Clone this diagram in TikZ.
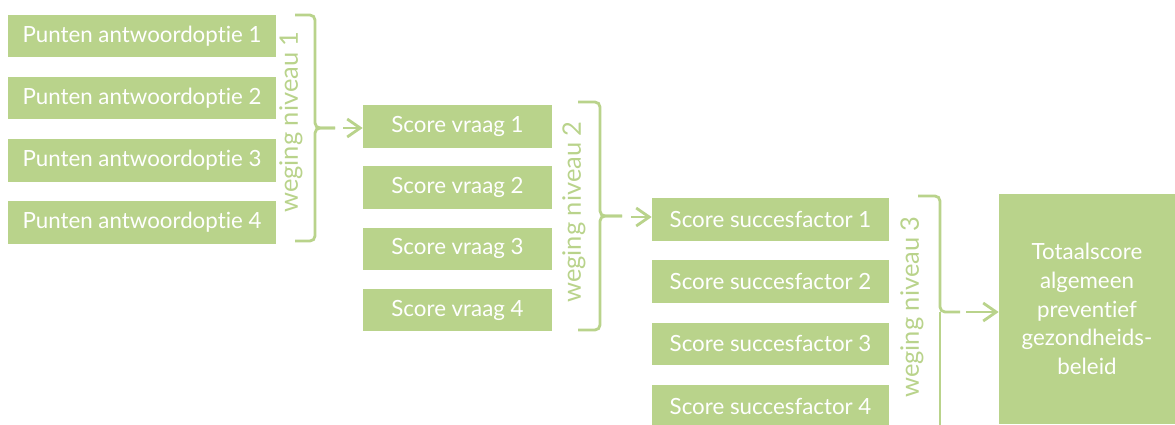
\documentclass[tikz,border=0pt]{standalone}
\usepackage{fontspec}
\setmainfont{Lato}[Ligatures=NoCommon]
\usepackage{xcolor}
\usetikzlibrary{arrows.meta,positioning}
\definecolor{GreenColor}{RGB}{185,211,139}

\tikzset{
  box/.style={fill=GreenColor, text=white, minimum height=0.85cm, inner sep=0pt},
  weging/.style={rotate=90, text=GreenColor, font=\fontsize{14.5}{17}\selectfont},
  bracket/.style={draw=GreenColor, line width=1.6pt, rounded corners=0.1cm},
  pijl/.style={draw=GreenColor, line width=1.6pt, -{Straight Barb[length=0.26cm, width=0.36cm]}}
}

\begin{document}
\begin{tikzpicture}[x=0.02cm, y=-0.02cm, font=\fontsize{12.7}{16.4}\selectfont]
  \useasboundingbox (0,0) rectangle (1175,424);
  % column 1
  \node[box, minimum width=5.36cm] (p1) at (142,36) {Punten antwoordoptie 1};
  \node[box, minimum width=5.36cm, below=0.38cm of p1] (p2) {Punten antwoordoptie 2};
  \node[box, minimum width=5.36cm, below=0.38cm of p2] (p3) {Punten antwoordoptie 3};
  \node[box, minimum width=5.36cm, below=0.38cm of p3] (p4) {Punten antwoordoptie 4};
  % column 2
  \node[box, minimum width=3.78cm] (v1) at (457.5,126.5) {Score vraag 1};
  \node[box, minimum width=3.78cm, below=0.36cm of v1] (v2) {Score vraag 2};
  \node[box, minimum width=3.78cm, below=0.36cm of v2] (v3) {Score vraag 3};
  \node[box, minimum width=3.78cm, below=0.36cm of v3] (v4) {Score vraag 4};
  % column 3
  \node[box, minimum width=4.74cm] (s1) at (770.5,219.5) {Score succesfactor 1};
  \node[box, minimum width=4.74cm, below=0.38cm of s1] (s2) {Score succesfactor 2};
  \node[box, minimum width=4.74cm, below=0.38cm of s2] (s3) {Score succesfactor 3};
  \node[box, minimum width=4.74cm, below=0.38cm of s3] (s4) {Score succesfactor 4};
  % total
  \node[box, minimum width=3.52cm, minimum height=4.6cm, align=center, text width=3.2cm] (tot) at (1087,309)
    {Totaalscore\\algemeen\\preventief\\gezondheids-\\beleid};

  % weging niveau 1
  \draw[bracket] (295,15) -- (315,15) -- (315,128) -- (335,128);
  \draw[bracket] (295,241) -- (315,241) -- (315,128) -- (335,128);
  \node[weging] (w1) at (291,122) {weging niveau 1};
  \coordinate (t1) at (343,128);
  \draw[pijl] (t1) -- (t1 -| v1.west);

  % weging niveau 2
  \draw[bracket] (578,102) -- (600,102) -- (600,216) -- (622,216);
  \draw[bracket] (578,330) -- (600,330) -- (600,216) -- (622,216);
  \node[weging] (w2) at (574,212) {weging niveau 2};
  \coordinate (t2) at (631,217);
  \draw[pijl] (t2) -- (t2 -| s1.west);

  % weging niveau 3
  \draw[bracket] (918,196) -- (940,196) -- (940,312) -- (960,312);
  \draw[bracket] (940,312) -- (940,440);
  \node[weging] (w3) at (912,307) {weging niveau 3};
  \coordinate (t3) at (966,312);
  \draw[pijl] (t3) -- (t3 -| tot.west);
\end{tikzpicture}
\end{document}
